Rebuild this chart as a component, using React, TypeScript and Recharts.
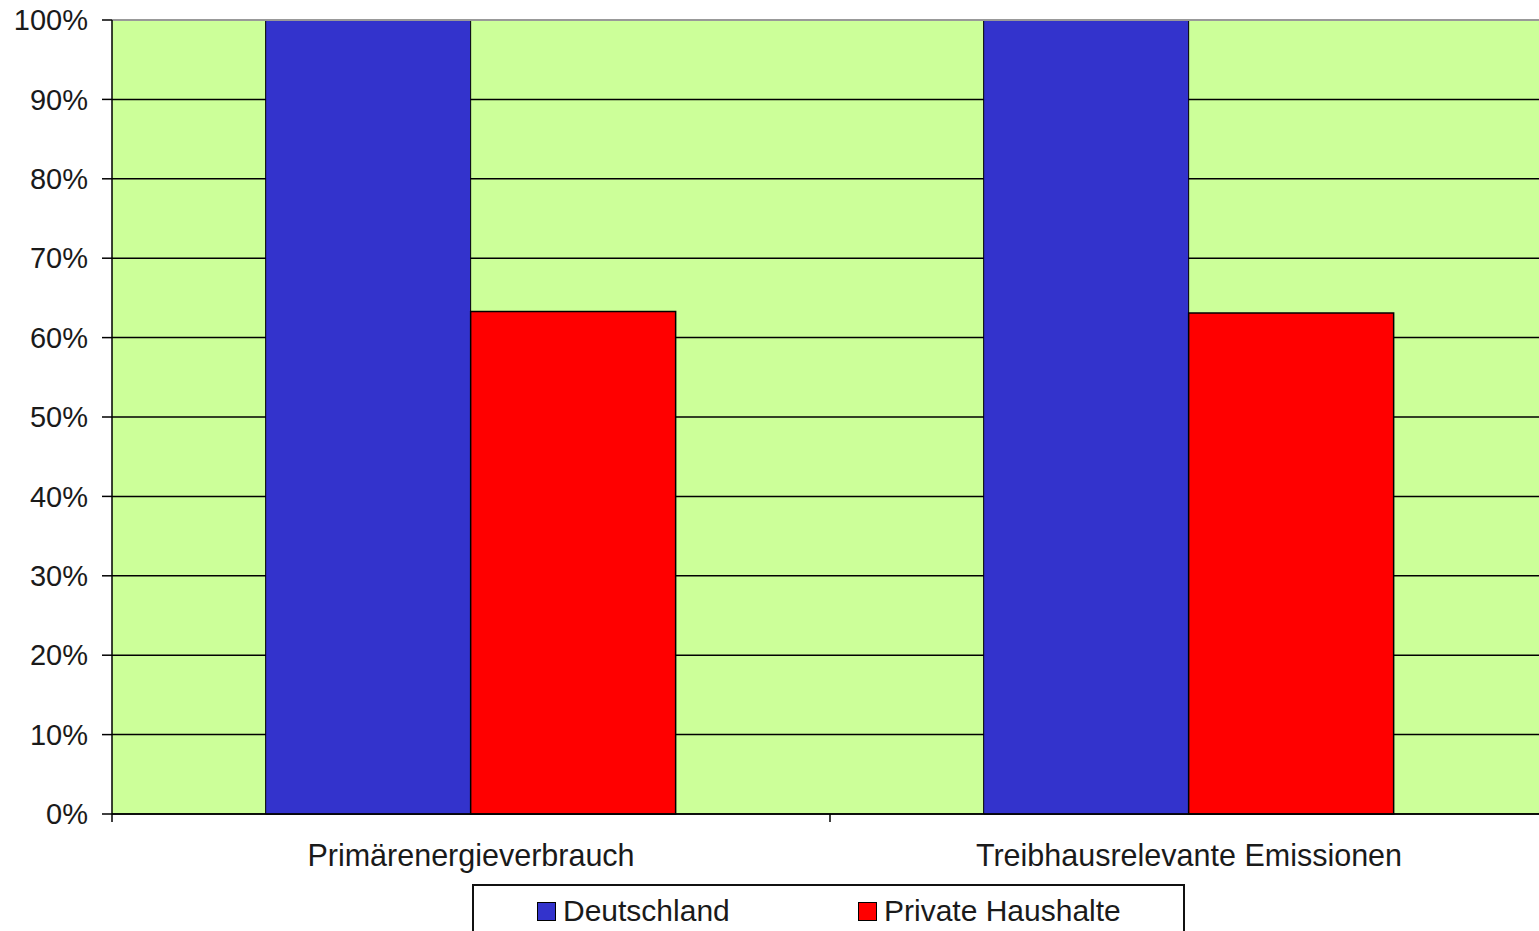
import { Bar, BarChart, CartesianGrid, Legend, ReferenceLine, XAxis, YAxis } from "recharts"

const categories = ["Primärenergieverbrauch", "Treibhausrelevante Emissionen"]
const deutschland = [100, 100]
const privateHaushalte = [63.3, 63.1]
const yTicks = [0, 10, 20, 30, 40, 50, 60, 70, 80, 90, 100]

const data = categories.map((name, i) => ({
  name,
  deutschland: deutschland[i],
  privat: privateHaushalte[i],
}))

const font = "'Liberation Sans', Arial, sans-serif"

function CategoryTick(props: any) {
  const { x, y, payload, index } = props
  const half = payload?.offset ?? 359
  return (
    <g>
      {index === 0 && (
        <line x1={x - half} x2={x - half} y1={y} y2={y + 8} stroke="#000" strokeWidth={1.5} />
      )}
      <line x1={x + half} x2={x + half} y1={y} y2={y + 8} stroke="#000" strokeWidth={1.5} />
      <text x={x} y={y + 52} textAnchor="middle" fontSize={30.5} fontFamily={font} fill="#1a1a1a">
        {payload.value}
      </text>
    </g>
  )
}

function LegendBox() {
  const items = [
    { label: "Deutschland", color: "#3333cc" },
    { label: "Private Haushalte", color: "#ff0000" },
  ]
  return (
    <div
      style={{
        width: 709,
        height: 60,
        border: "2px solid #111",
        background: "#fff",
        display: "flex",
        fontFamily: font,
        fontSize: 30,
        color: "#1a1a1a",
        boxSizing: "content-box",
      }}
    >
      {items.map((it, i) => (
        <div
          key={it.label}
          style={{
            display: "flex",
            alignItems: "center",
            position: "absolute",
            left: i === 0 ? 65 : 386,
            top: 12,
            lineHeight: "30px",
          }}
        >
          <span
            style={{
              display: "inline-block",
              width: 17,
              height: 17,
              background: it.color,
              border: "1px solid #000",
              marginRight: 7,
            }}
          />
          {it.label}
        </div>
      ))}
    </div>
  )
}

export default function App() {
  return (
    <div style={{ position: "absolute", left: 0, top: 0, width: 1539, height: 931, background: "#fff", overflow: "hidden" }}>
      <BarChart
        width={1548}
        height={931}
        data={data}
        margin={{ top: 20, right: 0, left: 0, bottom: 0 }}
        barCategoryGap="21.4%"
        barGap={0}
      >
        <CartesianGrid vertical={false} stroke="#000" strokeWidth={1.5} fill="#ccff99" fillOpacity={1} />
        <XAxis
          dataKey="name"
          tickSize={0}
          tickMargin={0}
          tickLine={false}
          axisLine={{ stroke: "#000", strokeWidth: 1.5 }}
          tick={<CategoryTick />}
          interval={0}
          height={57}
        />
        <YAxis
          width={112}
          domain={[0, 100]}
          ticks={yTicks}
          interval={0}
          tickFormatter={(v) => `${v}%`}
          tickSize={10}
          tickMargin={14}
          tickLine={{ stroke: "#000", strokeWidth: 1.5 }}
          axisLine={{ stroke: "#000", strokeWidth: 1.5 }}
          tick={{ fontSize: 29, fontFamily: font, fill: "#1a1a1a" }}
        />
        <Bar dataKey="deutschland" name="Deutschland" fill="#3333cc" stroke="#000" strokeWidth={1} isAnimationActive={false} />
        <Bar dataKey="privat" name="Private Haushalte" fill="#ff0000" stroke="#000" strokeWidth={1.5} isAnimationActive={false} />
        <ReferenceLine y={100} stroke="#999" strokeWidth={2} />
        <Legend
          verticalAlign="bottom"
          content={() => <LegendBox />}
          wrapperStyle={{ left: 472, top: 884, bottom: "auto", width: 713, height: 60 }}
        />
      </BarChart>
    </div>
  )
}
